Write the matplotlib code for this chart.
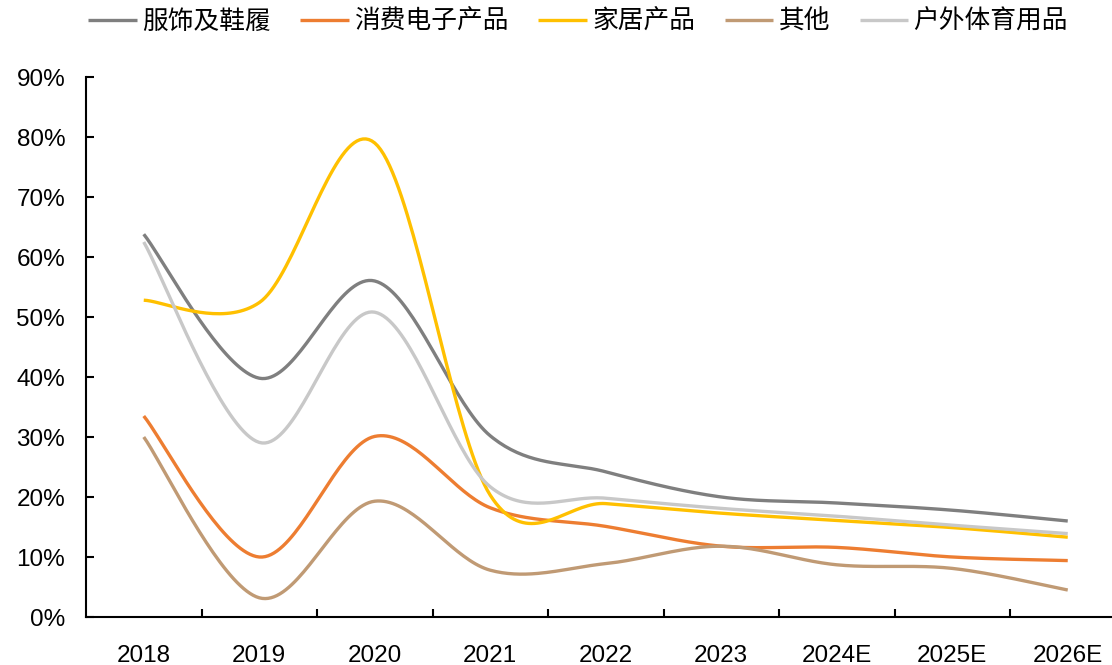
import matplotlib
matplotlib.use("Agg")
import matplotlib.pyplot as plt
import numpy as np

years = ['2018', '2019', '2020', '2021', '2022', '2023', '2024E', '2025E', '2026E']

apparel = [63.8, 39.8, 56.0, 30.2, 24.2, 20.0, 19.0, 17.8, 16.0]
electronics = [33.5, 10.0, 30.1, 18.2, 15.1, 11.8, 11.6, 10.0, 9.4]
home = [52.8, 52.4, 79.0, 20.3, 18.9, 17.3, 16.1, 14.9, 13.3]
other = [30.0, 3.2, 19.3, 7.8, 8.9, 11.8, 8.7, 8.1, 4.5]
outdoor = [62.5, 29.1, 50.8, 21.7, 19.8, 18.1, 16.8, 15.3, 13.9]

names = ['服饰及鞋履', '消费电子产品', '家居产品', '其他', '户外体育用品']
colors = ['#7F7F7F', '#ED7D31', '#FFC000', '#C09A74', '#C8C8C8']


def Smooth(ys, steps=40):
    # cubic bezier through each point, tangents taken from the neighbours
    p = np.array(ys, dtype=float)
    x = np.arange(len(p), dtype=float)
    px, py = [], []
    n = len(p)
    for i in range(n - 1):
        a = max(i - 1, 0)
        b = min(i + 2, n - 1)
        x0, x3 = x[i], x[i + 1]
        y0, y3 = p[i], p[i + 1]
        x1 = x0 + (x[i + 1] - x[a]) / 6
        y1 = y0 + (p[i + 1] - p[a]) / 6
        x2 = x3 - (x[b] - x[i]) / 6
        y2 = y3 - (p[b] - p[i]) / 6
        t = np.linspace(0, 1, steps)
        if i > 0:
            t = t[1:]
        px.extend((1-t)**3*x0 + 3*(1-t)**2*t*x1 + 3*(1-t)*t**2*x2 + t**3*x3)
        py.extend((1-t)**3*y0 + 3*(1-t)**2*t*y1 + 3*(1-t)*t**2*y2 + t**3*y3)
    return np.array(px), np.array(py)


plt.rcParams['font.family'] = ['Liberation Sans', 'DejaVu Sans']

fig = plt.figure(figsize=(11.12, 6.65), dpi=100)
ax = fig.add_axes([86 / 1112, 48 / 665, 1039.5 / 1112, 540 / 665])

series = [apparel, electronics, home, other, outdoor]
for vals, name, col in zip(series, names, colors):
    sx, sy = Smooth(vals)
    ax.plot(sx, sy, color=col, linewidth=2.4, label=name, solid_capstyle='butt')

ax.set_xlim(-0.5, len(years) - 0.5)
ax.set_ylim(0, 90)
ax.set_yticks(np.arange(0, 91, 10))
ax.set_yticklabels([f'{v}%' for v in range(0, 91, 10)])
ax.set_xticks(np.arange(len(years)))
ax.set_xticklabels(years)
ax.set_xticks(np.arange(len(years)) + 0.5, minor=True)

for s in ['top', 'right']:
    ax.spines[s].set_visible(False)
for s in ['left', 'bottom']:
    ax.spines[s].set_linewidth(1.5)
    ax.spines[s].set_color('black')

ax.tick_params(axis='y', direction='in', length=6, width=1.5, labelsize=17.5, pad=15)
ax.tick_params(axis='x', which='major', length=0, labelsize=17.5, pad=20)
ax.tick_params(axis='x', which='minor', direction='in', length=6, width=1.5)

fig.legend(loc='center', bbox_to_anchor=(578 / 1112, 1 - 22 / 665), ncol=5,
           frameon=False, prop={'family': ['Noto Sans CJK SC', 'DejaVu Sans'], 'size': 18.5},
           handlelength=1.9, handletextpad=0.2, columnspacing=1.15)

fig.savefig('out.png', dpi=100)
